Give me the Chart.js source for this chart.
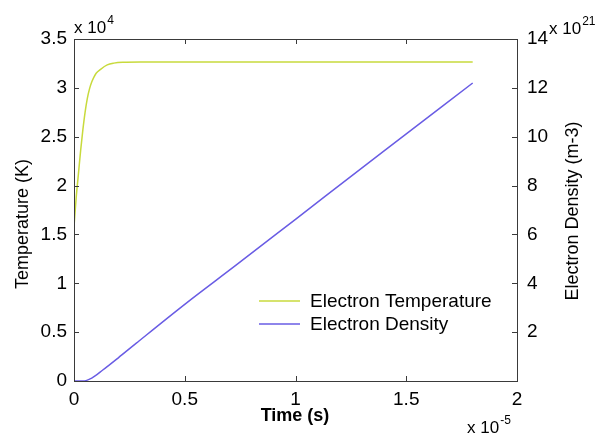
<!DOCTYPE html>
<html>
<head>
<meta charset="utf-8">
<script src="https://cdn.jsdelivr.net/npm/chart.js@4.4.1/dist/chart.umd.min.js"></script>
<style>
  body { margin: 0; background: #fff; }
  #wrap { width: 598px; height: 437px; }
</style>
</head>
<body>
<div id="wrap"><canvas id="myChart" width="598" height="437"></canvas></div>
<script>
// time in units of 1e-5 s
var tempTime = [0, 0.01, 0.02, 0.03, 0.04, 0.05, 0.06, 0.07, 0.08, 0.09, 0.1, 0.12, 0.15, 0.18, 0.22, 0.3, 1.0, 1.8];
// electron temperature in units of 1e4 K
var tempValues = [1.58, 1.88, 2.12, 2.36, 2.57, 2.75, 2.89, 2.99, 3.06, 3.11, 3.15, 3.19, 3.235, 3.253, 3.262, 3.265, 3.265, 3.265];

var densTime = [0, 0.04, 0.08, 0.13, 0.2, 0.28, 0.5, 0.73, 1.0, 1.4, 1.8];
// electron density in units of 1e21 m-3
var densValues = [0, 0.0, 0.12, 0.45, 0.95, 1.54, 3.14, 4.73, 6.62, 9.42, 12.2];

var xTicks = [0, 0.5, 1, 1.5, 2];
var leftTicks = [0, 0.5, 1, 1.5, 2, 2.5, 3, 3.5];
var rightTicks = [2, 4, 6, 8, 10, 12, 14];

var tempColor = 'rgb(200, 218, 60)';
var densColor = 'rgb(105, 92, 228)';
var axisColor = '#3a3a3a';
var font = '"Liberation Sans", Arial, sans-serif';

function pairs(xs, ys) {
    return xs.map(function(x, i) { return { x: x, y: ys[i] }; });
}

var matlabBox = {
    id: 'matlabBox',
    afterDraw: function(chart) {
        var ctx = chart.ctx;
        var a = chart.chartArea;
        var x = chart.scales.x, y = chart.scales.y, y1 = chart.scales.y1;
        ctx.save();
        ctx.strokeStyle = axisColor;
        ctx.lineWidth = 1;
        ctx.strokeRect(Math.round(a.left) + 0.5, Math.round(a.top) + 0.5,
            Math.round(a.right - a.left), Math.round(a.bottom - a.top));

        ctx.beginPath();
        xTicks.forEach(function(v) {
            var px = Math.round(x.getPixelForValue(v)) + 0.5;
            ctx.moveTo(px, a.bottom); ctx.lineTo(px, a.bottom - 5);
            ctx.moveTo(px, a.top); ctx.lineTo(px, a.top + 5);
        });
        leftTicks.forEach(function(v) {
            var py = Math.round(y.getPixelForValue(v)) + 0.5;
            ctx.moveTo(a.left, py); ctx.lineTo(a.left + 5, py);
        });
        rightTicks.forEach(function(v) {
            var py = Math.round(y1.getPixelForValue(v)) + 0.5;
            ctx.moveTo(a.right, py); ctx.lineTo(a.right - 5, py);
        });
        ctx.stroke();

        ctx.fillStyle = '#000';
        // axis titles
        ctx.font = '18px ' + font;
        ctx.textAlign = 'center';
        ctx.textBaseline = 'middle';
        ctx.save();
        ctx.translate(23, 224);
        ctx.rotate(-Math.PI / 2);
        ctx.fillText('Temperature (K)', 0, 0);
        ctx.restore();
        ctx.save();
        ctx.translate(573, 211);
        ctx.rotate(-Math.PI / 2);
        ctx.fillText('Electron Density (m-3)', 0, 0);
        ctx.restore();
        ctx.font = 'bold 18px ' + font;
        ctx.fillText('Time (s)', 295, 416);

        // exponent labels
        function expo(base, sup, lx, ly) {
            ctx.textAlign = 'left';
            ctx.textBaseline = 'alphabetic';
            ctx.font = '17px ' + font;
            ctx.fillText(base, lx, ly);
            var w = ctx.measureText(base).width;
            ctx.font = '12px ' + font;
            ctx.fillText(sup, lx + w + 1, ly - 9);
        }
        expo('x 10', '4', 74, 33);
        expo('x 10', '21', 549, 34);
        expo('x 10', '-5', 467, 433);

        // legend
        ctx.font = '19px ' + font;
        ctx.textAlign = 'left';
        ctx.textBaseline = 'middle';
        ctx.lineWidth = 1.5;
        chart.data.datasets.forEach(function(ds, i) {
            var ly = 301 + i * 23;
            ctx.strokeStyle = ds.borderColor;
            ctx.beginPath();
            ctx.moveTo(259, ly); ctx.lineTo(300, ly);
            ctx.stroke();
            ctx.fillStyle = '#000';
            ctx.fillText(ds.label, 310, ly + 1);
        });
        ctx.restore();
    }
};

document.addEventListener('DOMContentLoaded', function() {
    var ctx = document.getElementById('myChart').getContext('2d');

    new Chart(ctx, {
        type: 'line',
        data: {
            datasets: [{
                label: 'Electron Temperature',
                data: pairs(tempTime, tempValues),
                borderColor: tempColor,
                borderWidth: 1.5,
                pointRadius: 0,
                cubicInterpolationMode: 'monotone',
                yAxisID: 'y'
            }, {
                label: 'Electron Density',
                data: pairs(densTime, densValues),
                borderColor: densColor,
                borderWidth: 1.5,
                pointRadius: 0,
                cubicInterpolationMode: 'monotone',
                yAxisID: 'y1'
            }]
        },
        options: {
            responsive: false,
            animation: false,
            layout: { padding: { top: 39, left: 0, right: 0, bottom: 0 } },
            plugins: {
                legend: { display: false },
                tooltip: { enabled: false }
            },
            scales: {
                x: {
                    type: 'linear',
                    min: 0,
                    max: 2,
                    afterFit: function(s) { s.height = 56; },
                    afterBuildTicks: function(s) { s.ticks = xTicks.map(function(v) { return { value: v }; }); },
                    grid: { display: false, drawTicks: false },
                    border: { display: false },
                    ticks: {
                        padding: 7,
                        color: '#000',
                        font: { family: font, size: 19 },
                        maxRotation: 0,
                        callback: function(v) { return String(v); }
                    }
                },
                y: {
                    position: 'left',
                    min: 0,
                    max: 3.5,
                    afterFit: function(s) { s.width = 74; },
                    afterBuildTicks: function(s) { s.ticks = leftTicks.map(function(v) { return { value: v }; }); },
                    grid: { display: false, drawTicks: false },
                    border: { display: false },
                    ticks: {
                        padding: 7,
                        color: '#000',
                        font: { family: font, size: 19 },
                        callback: function(v) { return String(v); }
                    }
                },
                y1: {
                    position: 'right',
                    min: 0,
                    max: 14,
                    afterFit: function(s) { s.width = 81; },
                    afterBuildTicks: function(s) { s.ticks = rightTicks.map(function(v) { return { value: v }; }); },
                    grid: { display: false, drawTicks: false },
                    border: { display: false },
                    ticks: {
                        padding: 10,
                        color: '#000',
                        font: { family: font, size: 19 },
                        callback: function(v) { return String(v); }
                    }
                }
            }
        },
        plugins: [matlabBox]
    });
});
</script>
</body>
</html>
